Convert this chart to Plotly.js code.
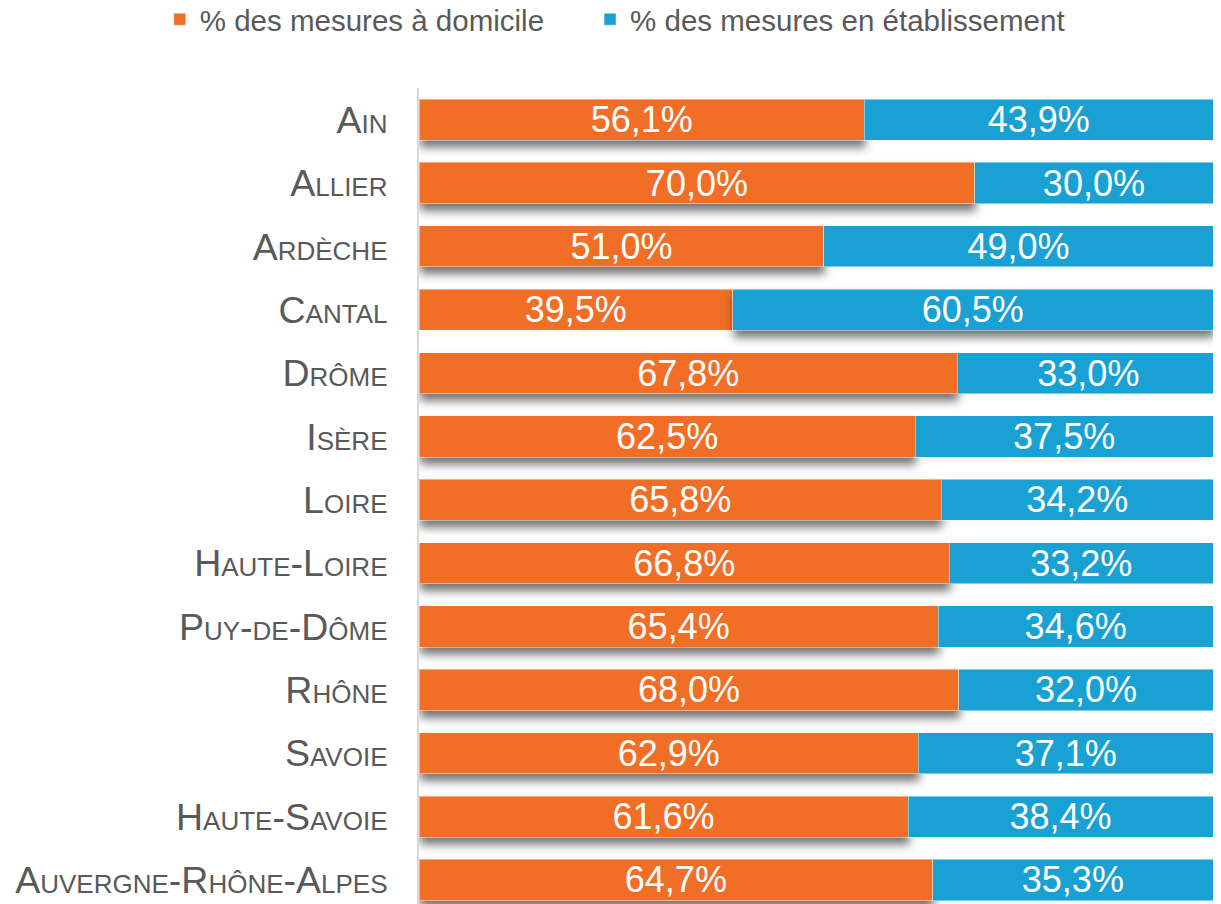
<!DOCTYPE html>
<html>
<head>
<meta charset="utf-8">
<script src="https://cdn.plot.ly/plotly-3.0.1.min.js"></script>
<style>
  html, body { margin: 0; padding: 0; background: #ffffff; }
  #chart { width: 1221px; height: 904px; }
</style>
</head>
<body>
<div id="chart"></div>
<script>
const categories = ["Ain", "Allier", "Ardèche", "Cantal", "Drôme", "Isère", "Loire", "Haute-Loire", "Puy-de-Dôme", "Rhône", "Savoie", "Haute-Savoie", "Auvergne-Rhône-Alpes"];
const domicile = [56.1, 70.0, 51.0, 39.5, 67.8, 62.5, 65.8, 66.8, 65.4, 68.0, 62.9, 61.6, 64.7];
const etablissement = [43.9, 30.0, 49.0, 60.5, 33.0, 37.5, 34.2, 33.2, 34.6, 32.0, 37.1, 38.4, 35.3];
const seriesNames = ["% des mesures à domicile", "% des mesures en établissement"];
const colors = ["#F16E26", "#19A1D3"];

const common = {
  type: "bar",
  orientation: "h",
  y: categories,
  texttemplate: "%{x:.1f}%",
  textposition: "inside",
  insidetextanchor: "middle",
  constraintext: "none",
  textfont: { family: "Liberation Sans, Arial, sans-serif", size: 36, color: "#ffffff" },
  hoverinfo: "none"
};

const traces = [
  Object.assign({}, common, {
    name: seriesNames[0] + "\u00A0\u00A0\u00A0\u00A0\u00A0", x: domicile,
    marker: { color: colors[0], line: { color: "rgba(255,255,255,0.45)", width: 1 } }
  }),
  Object.assign({}, common, {
    name: seriesNames[1], x: etablissement,
    marker: { color: colors[1], line: { color: "rgba(255,255,255,0.45)", width: 1 } }
  })
];

const layout = {
  width: 1221, height: 904,
  margin: { l: 419, r: 8, t: 88, b: 0, pad: 0, autoexpand: false },
  paper_bgcolor: "#ffffff", plot_bgcolor: "#ffffff",
  barmode: "stack",
  bargap: 0.35,
  separators: ", ",
  font: { family: "Liberation Sans, Arial, sans-serif", color: "#595959" },
  xaxis: { range: [0, 100], visible: false, fixedrange: true },
  yaxis: {
    type: "category",
    categoryarray: categories,
    range: [12.379, -0.5],
    showgrid: false, zeroline: false,
    showline: true, linecolor: "#D9D9D9", linewidth: 2,
    ticks: "",
    ticklabelstandoff: 22,
    tickfont: { family: "Liberation Sans, Arial, sans-serif", size: 37.5, color: "#595959", variant: "small-caps" },
    fixedrange: true
  },
  showlegend: true,
  legend: {
    orientation: "h",
    x: -0.3265, xanchor: "left",
    y: 1.1158, yanchor: "top",
    font: { family: "Liberation Sans, Arial, sans-serif", size: 29.5, color: "#595959" },
    traceorder: "normal",
    itemclick: false, itemdoubleclick: false
  }
};

Plotly.newPlot("chart", traces, layout, { displayModeBar: false, staticPlot: true }).then(function () {
  const vals = [domicile, etablissement];
  const traceGroups = document.querySelectorAll("#chart .barlayer .trace");
  traceGroups.forEach(function (g, t) {
    const pts = g.querySelectorAll(".point");
    pts.forEach(function (p, i) {
      const other = vals[1 - t][i];
      if (vals[t][i] > other) {
        const path = p.querySelector("path");
        if (path) path.style.filter = "drop-shadow(1px 7px 5px rgba(0,0,0,0.55))";
      }
    });
  });
});
</script>
</body>
</html>
